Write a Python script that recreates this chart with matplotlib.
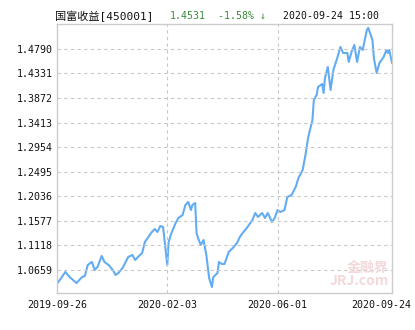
import matplotlib.pyplot as plt
from matplotlib.transforms import ScaledTranslation

plt.rcParams['font.family'] = ['DejaVu Sans Mono', 'Noto Sans CJK SC']

# trading-day index and NAV
days = [0, 2, 6, 9, 14, 18, 20, 22, 25, 27, 29, 32, 34, 37, 40, 42, 44, 47, 51, 54,
        56, 58, 61, 63, 65, 68, 70, 72, 74, 76, 78, 79, 80, 82, 85, 87, 90, 92, 94, 96,
        97, 99, 100, 101, 103, 105, 107, 109, 111, 112, 115, 116, 118, 120, 123, 126,
        129, 131, 133, 136, 140, 142, 144, 147, 149, 151, 154, 156, 158, 160, 163, 165,
        168, 171, 173, 176, 178, 180, 183, 184, 186, 187, 190, 191, 192, 194, 196, 198,
        201, 203, 205, 208, 209, 211, 213, 215, 217, 219, 222, 223, 226, 227, 229, 231,
        234, 236, 237, 238, 240]
nav = [1.0397, 1.0472, 1.0622, 1.0528, 1.0416, 1.0528, 1.0547, 1.0752, 1.0809, 1.0659,
       1.0715, 1.0921, 1.0809, 1.0752, 1.0659, 1.0566, 1.0603, 1.0696, 1.0902, 1.0939,
       1.0846, 1.0902, 1.0977, 1.1182, 1.1257, 1.1369, 1.1425, 1.1369, 1.1481, 1.1463,
       1.0995, 1.0752, 1.1182, 1.1351, 1.1537, 1.1631, 1.1687, 1.1874, 1.1930, 1.1780,
       1.1874, 1.1911, 1.1351, 1.1257, 1.1126, 1.1220, 1.0939, 1.0509, 1.0341, 1.0528,
       1.0603, 1.0809, 1.0771, 1.0771, 1.0995, 1.1070, 1.1164, 1.1276, 1.1351, 1.1444,
       1.1594, 1.1724, 1.1650, 1.1724, 1.1631, 1.1724, 1.1556, 1.1631, 1.1780, 1.1743,
       1.1780, 1.2023, 1.2061, 1.2210, 1.2379, 1.2528, 1.2808, 1.3145, 1.3463, 1.3836,
       1.3930, 1.4079, 1.4135, 1.3967, 1.4247, 1.4453, 1.4023, 1.4397, 1.4640, 1.4827,
       1.4715, 1.4715, 1.4547, 1.4733, 1.4864, 1.4547, 1.4827, 1.4771, 1.5145, 1.5182,
       1.4958, 1.4621, 1.4341, 1.4528, 1.4640, 1.4771, 1.4715, 1.4771, 1.4531]

yticks = [1.0659, 1.1118, 1.1577, 1.2036, 1.2495, 1.2954, 1.3413, 1.3872, 1.4331, 1.4790]
xtick_pos = [0, 79, 158, 240]
xtick_labels = ['2019-09-26', '2020-02-03', '2020-06-01', '2020-09-24']

fig = plt.figure(figsize=(4.15, 3.3), dpi=100)
ax = fig.add_axes([0.1373, 0.1121, 0.8073, 0.8152])

ax.plot(days, nav, color='#63acf2', lw=1.5)

ax.set_xlim(0, 240)
ax.set_ylim(1.0229, 1.5256)
ax.set_yticks(yticks)
ax.set_yticklabels([f'{v:.4f}' for v in yticks])
ax.set_xticks(xtick_pos)
ax.set_xticklabels(xtick_labels)
ax.tick_params(length=0, labelsize=7.2, colors='#111111', pad=3)
ax.tick_params(axis='x', pad=5)

for v in yticks:
    ax.axhline(v, color='#c8c8c8', lw=0.8, ls=(0, (3, 3)))
for p in xtick_pos[1:3]:
    ax.axvline(p, color='#c8c8c8', lw=0.8, ls=(0, (3, 3)))

for s in ax.spines.values():
    s.set_color('#cccccc')
    s.set_linewidth(1)

# last date label is pulled left so it stays inside the figure
lab = ax.get_xticklabels()[-1]
lab.set_transform(lab.get_transform() + ScaledTranslation(-0.11, 0, fig.dpi_scale_trans))

# watermark
ax.text(0.99, 0.02, '金融界\nJRJ.com', transform=ax.transAxes, ha='right', va='bottom',
        fontsize=10, color='#f3d9d9', fontweight='bold', linespacing=0.9,
        family=['Noto Sans CJK SC', 'DejaVu Sans'])

# header
fig.text(55/415, 1 - 16/330, '国富收益[450001]', fontsize=8, va='center', color='#111111')
fig.text(170/415, 1 - 16/330, '1.4531', fontsize=7.1, va='center', color='#3a8a3a')
fig.text(218/415, 1 - 16/330, '-1.58% ↓', fontsize=7.1, va='center', color='#3a8a3a')
fig.text(283/415, 1 - 16/330, '2020-09-24 15:00', fontsize=7.1, va='center', color='#111111')

fig.savefig('out.png', dpi=100)
